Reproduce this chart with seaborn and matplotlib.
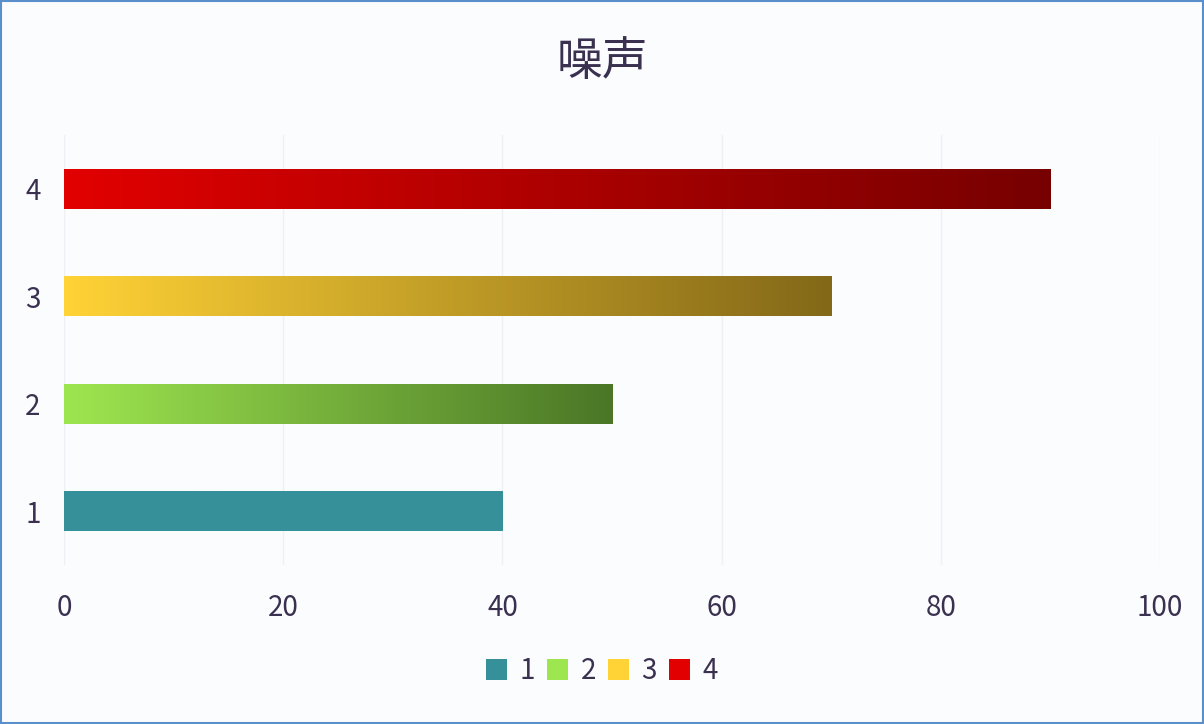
import numpy as np
import pandas as pd
import matplotlib
matplotlib.use('Agg')
import matplotlib.pyplot as plt
import seaborn as sns
from matplotlib.colors import LinearSegmentedColormap
from matplotlib.patches import Patch, Rectangle

# data
categories = ['1', '2', '3', '4']
values = [40, 50, 70, 90]
start_colors = ['#36909A', '#9EE650', '#FFD236', '#E20000']
end_colors = ['#36909A', '#4A7626', '#836818', '#770000']
title = '噪声'

df = pd.DataFrame({'cat': categories, 'val': values})

sns.set_theme(style='white')
plt.rcParams['font.family'] = ['Noto Sans CJK SC', 'DejaVu Sans']
text_color = '#3A3050'
bg = '#FBFCFE'

fig = plt.figure(figsize=(12.04, 7.24), dpi=100, facecolor=bg)
ax = fig.add_axes([0.0532, 0.2196, 0.9103, 0.594])
ax.set_facecolor(bg)

order = categories[::-1]
sns.barplot(data=df, x='val', y='cat', hue='cat', order=order, hue_order=categories,
            palette=start_colors, width=0.37, legend=False, ax=ax, saturation=1)

# gradient fill clipped to each bar
col_by_cat = dict(zip(categories, zip(start_colors, end_colors)))
for patch in list(ax.patches):
    x0, y0 = patch.get_x(), patch.get_y()
    w, h = patch.get_width(), patch.get_height()
    cat = order[int(round(y0 + h / 2))]
    c0, c1 = col_by_cat[cat]
    cmap = LinearSegmentedColormap.from_list('g' + cat, [c0, c1])
    grad = np.linspace(0, 1, 256).reshape(1, -1)
    im = ax.imshow(grad, cmap=cmap, aspect='auto', extent=[x0, x0 + w, y0 + h, y0],
                   zorder=patch.get_zorder() + 0.1)
    im.set_clip_path(patch)
    patch.set_edgecolor('none')

ax.set_xlim(0, 100)
ax.set_ylim(3.5, -0.5)
ax.set_xticks(range(0, 101, 20))
ax.xaxis.grid(True, color='#EEF0F6', linewidth=1)
ax.set_axisbelow(True)
for s in ax.spines.values():
    s.set_visible(False)
ax.tick_params(axis='both', length=0, labelsize=20, colors=text_color)
ax.tick_params(axis='x', pad=20)
ax.tick_params(axis='y', pad=17)
ax.set_xlabel('')
ax.set_ylabel('')

fig.suptitle(title, y=0.948, fontsize=33, color=text_color)

handles = [Patch(facecolor=c, edgecolor='none') for c in start_colors]
fig.legend(handles, categories, loc='center', bbox_to_anchor=(0.5, 0.073), ncol=4,
           frameon=False, fontsize=20, labelcolor=text_color, handlelength=0.75,
           handleheight=0.75, handletextpad=0.45, columnspacing=0.45)

fig.patches.append(Rectangle((0.001, 0.001), 0.998, 0.997, transform=fig.transFigure,
                             fill=False, edgecolor='#5B8FCB', linewidth=1.5))

fig.savefig('out.png', dpi=100, facecolor=bg)
